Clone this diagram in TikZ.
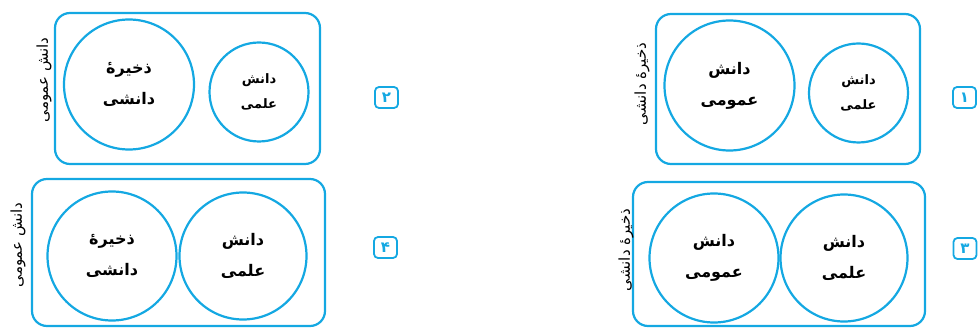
\documentclass[tikz,border=0pt]{standalone}
\usepackage{fontspec}
\newfontfamily\arabicfont[Script=Arabic]{DejaVu Sans}
\TeXXeTstate=1
\usetikzlibrary{positioning}
\definecolor{vennblue}{RGB}{20,168,226}

\begin{document}
\begin{tikzpicture}[x=1pt, y=-1pt,
        % Outer rounded frame of every diagram
        frame/.style={draw=vennblue, line width=2.2pt, rounded corners=15pt, inner sep=0pt},
        % Circles that stand for the sets
        bigset/.style={draw=vennblue, line width=2.2pt, circle, inner sep=0pt, align=center,
        font=\arabicfont\bfseries\fontsize{16}{31}\selectfont},
        smallset/.style={bigset, font=\arabicfont\bfseries\fontsize{13}{25}\selectfont},
        % Name of the frame, written up its left side
        sidetext/.style={rotate=90, inner sep=0pt, font=\arabicfont\fontsize{15}{16}\selectfont},
        % Small numbered box of each choice
        numbox/.style={draw=vennblue, line width=1.8pt, rounded corners=4pt, text=vennblue,
        minimum width=23pt, minimum height=21pt, inner sep=0pt,
        font=\arabicfont\bfseries\fontsize{15}{16}\selectfont}
    ]
    \useasboundingbox (0,0) rectangle (980,328);

    % --- Choice 1 (top right) ---
    \node[frame, minimum width=264pt, minimum height=150pt] (p1_frame) at (788,89) {};
    \node[bigset, minimum size=130pt] (p1_general) at (729.5,85.5) {\beginR دانش\endR\\\beginR عمومی\endR};
    \node[smallset, minimum size=99pt] (p1_science) at (858.5,93) {\beginR دانش\endR\\\beginR علمی\endR};
    \node[sidetext] (p1_label) at (642,84) {\beginR ذخیرهٔ دانشی\endR};
    \node[numbox] (p1_num) at (964.5,97.5) {۱};

    % --- Choice 2 (top left) ---
    \node[frame, minimum width=265pt, minimum height=151pt] (p2_frame) at (187.5,88.5) {};
    \node[bigset, minimum size=130pt] (p2_store) at (129,84.5) {\beginR ذخیرهٔ\endR\\\beginR دانشی\endR};
    \node[smallset, minimum size=99pt] (p2_science) at (259,92) {\beginR دانش\endR\\\beginR علمی\endR};
    \node[sidetext] (p2_label) at (44,80) {\beginR دانش عمومی\endR};
    \node[numbox] (p2_num) at (386.5,97.5) {۲};

    % --- Choice 3 (bottom right) ---
    \node[frame, minimum width=292pt, minimum height=144pt] (p3_frame) at (779,254) {};
    \node[bigset, minimum size=129pt] (p3_general) at (714,258) {\beginR دانش\endR\\\beginR عمومی\endR};
    \node[bigset, minimum size=127pt] (p3_science) at (844,258) {\beginR دانش\endR\\\beginR علمی\endR};
    \node[sidetext] (p3_label) at (626,250) {\beginR ذخیرهٔ دانشی\endR};
    \node[numbox] (p3_num) at (965,248.5) {۳};

    % --- Choice 4 (bottom left) ---
    \node[frame, minimum width=293pt, minimum height=147pt] (p4_frame) at (178.5,252.5) {};
    \node[bigset, minimum size=129pt] (p4_store) at (112,256) {\beginR ذخیرهٔ\endR\\\beginR دانشی\endR};
    \node[bigset, minimum size=127pt] (p4_science) at (243,256) {\beginR دانش\endR\\\beginR علمی\endR};
    \node[sidetext] (p4_label) at (18,245) {\beginR دانش عمومی\endR};
    \node[numbox] (p4_num) at (385.5,247.5) {۴};

\end{tikzpicture}
\end{document}
